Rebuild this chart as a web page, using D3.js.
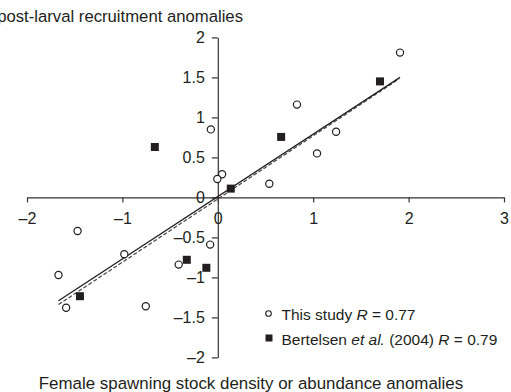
<!DOCTYPE html>
<html>
<head>
<meta charset="utf-8">
<script src="https://cdn.jsdelivr.net/npm/d3@7"></script>
<style>
  html, body { margin: 0; padding: 0; background: #fff; }
  svg { display: block; font-family: "Liberation Sans", Arial, sans-serif; }
</style>
</head>
<body>
<svg id="chart" width="511" height="392"></svg>
<script>
// Anomalies: this study (open circles)
const studyX = [-1.47, -1.67, -0.98, -1.59, -0.755, -0.073, 0.045, -0.005, -0.08, -0.41, 0.83, 1.24, 1.04, 0.54, 1.91];
const studyY = [-0.42, -0.97, -0.71, -1.38, -1.36, 0.85, 0.29, 0.23, -0.59, -0.84, 1.16, 0.82, 0.55, 0.17, 1.81];

// Anomalies: Bertelsen et al. (2004) (filled squares)
const bertX = [-0.66, 0.136, -0.325, -0.12, -1.445, 0.664, 1.70];
const bertY = [0.63, 0.11, -0.78, -0.88, -1.235, 0.756, 1.45];

// Fitted regression lines: [slope, intercept, xStart, xEnd]
const fitStudy = [0.78, 0.01, -1.67, 1.91];
const fitBert = [0.79, -0.02, -1.67, 1.90];

// Axis ticks
const xTicks = [-2, -1, 0, 1, 2, 3];
const yTicks = [-2, -1.5, -1, -0.5, 0, 0.5, 1, 1.5, 2];

const FONT = "'Liberation Sans', Arial, sans-serif";
const INK = "#231f20";

const svg = d3.select("#chart");
const x = d3.scaleLinear().domain([-2, 3]).range([27, 504]);
const y = d3.scaleLinear().domain([-2, 2]).range([357.4, 37.4]);

const fmt = d => {
  const s = String(Math.abs(d));
  return d < 0 ? "\u2013" + s : s;
};

function styleAxis(g) {
  g.attr("font-size", null).attr("font-family", null);
  g.selectAll("text")
    .attr("font-size", "16px")
    .attr("font-family", FONT)
    .attr("fill", INK);
  g.selectAll("path, line").attr("stroke", "#333").attr("stroke-width", 1.2);
}

// x axis through y = 0
svg.append("g")
  .attr("transform", `translate(0,${y(0)})`)
  .call(d3.axisBottom(x).tickValues(xTicks).tickFormat(fmt).tickSize(5).tickSizeOuter(0).tickPadding(10.5))
  .call(styleAxis);

// y axis through x = 0
svg.append("g")
  .attr("transform", `translate(${x(0)},0)`)
  .call(d3.axisLeft(y).tickValues(yTicks).tickFormat(fmt).tickSize(6).tickSizeOuter(0).tickPadding(7))
  .call(styleAxis);

// Regression lines
function fitLine(f) {
  return [[f[2], f[0] * f[2] + f[1]], [f[3], f[0] * f[3] + f[1]]];
}
const line = d3.line().x(d => x(d[0])).y(d => y(d[1]));
svg.append("path")
  .attr("d", line(fitLine(fitBert)))
  .attr("fill", "none")
  .attr("stroke", "#444")
  .attr("stroke-width", 1.2)
  .attr("stroke-dasharray", "4,2");
svg.append("path")
  .attr("d", line(fitLine(fitStudy)))
  .attr("fill", "none")
  .attr("stroke", INK)
  .attr("stroke-width", 1.3);

// Points: this study
const study = studyX.map((v, i) => [v, studyY[i]]);
svg.append("g").selectAll("circle")
  .data(study)
  .join("circle")
  .attr("cx", d => x(d[0]))
  .attr("cy", d => y(d[1]))
  .attr("r", 3.6)
  .attr("fill", "#fff")
  .attr("stroke", INK)
  .attr("stroke-width", 1.2);

// Points: Bertelsen et al. (2004)
const bert = bertX.map((v, i) => [v, bertY[i]]);
const sq = 8;
svg.append("g").selectAll("rect")
  .data(bert)
  .join("rect")
  .attr("x", d => x(d[0]) - sq / 2)
  .attr("y", d => y(d[1]) - sq / 2)
  .attr("width", sq)
  .attr("height", sq)
  .attr("fill", INK);

// Axis titles
svg.append("text")
  .attr("x", 243)
  .attr("y", 22)
  .attr("text-anchor", "end")
  .attr("font-size", "16.7px")
  .attr("font-family", FONT)
  .attr("fill", INK)
  .text("post-larval recruitment anomalies");

svg.append("text")
  .attr("x", 251)
  .attr("y", 389)
  .attr("text-anchor", "middle")
  .attr("font-size", "16.9px")
  .attr("font-family", FONT)
  .attr("fill", INK)
  .text("Female spawning stock density or abundance anomalies");

// Legend
const legend = svg.append("g").attr("font-family", FONT).attr("font-size", "15.5px").attr("fill", INK);
legend.append("circle")
  .attr("cx", 268.5).attr("cy", 313.5).attr("r", 2.8)
  .attr("fill", "#fff").attr("stroke", INK).attr("stroke-width", 1.1);
const t1 = legend.append("text").attr("x", 281.5).attr("y", 319.5);
t1.append("tspan").text("This study ");
t1.append("tspan").attr("font-style", "italic").text("R");
t1.append("tspan").text(" = 0.77");

legend.append("rect")
  .attr("x", 265.5).attr("y", 334.5).attr("width", 7).attr("height", 7)
  .attr("fill", INK);
const t2 = legend.append("text").attr("x", 281.5).attr("y", 344.5);
t2.append("tspan").text("Bertelsen ");
t2.append("tspan").attr("font-style", "italic").text("et al.");
t2.append("tspan").text(" (2004) ");
t2.append("tspan").attr("font-style", "italic").text("R");
t2.append("tspan").text(" = 0.79");
</script>
</body>
</html>
